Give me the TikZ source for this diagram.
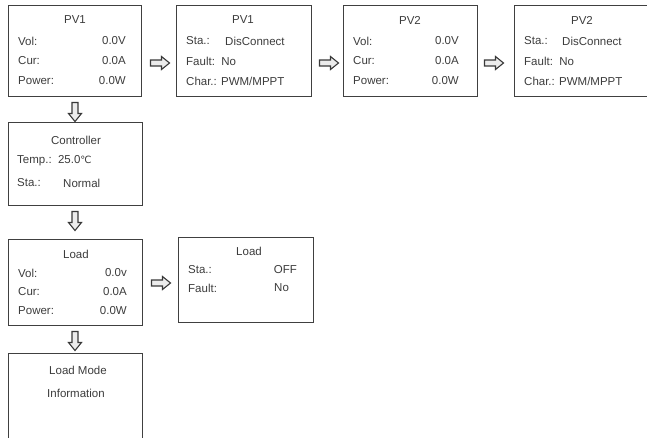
\documentclass[tikz,border=0pt]{standalone}
\usepackage{fontspec}
\setmainfont{Liberation Sans}
\newfontfamily\dvfont{DejaVu Sans}
\definecolor{txt}{HTML}{3C3C3C}
\definecolor{edge}{HTML}{404040}
\begin{document}
\begin{tikzpicture}[x=1pt,y=-1pt,
  panel/.style={draw=edge,line width=1.2pt,rectangle,anchor=north west,inner sep=0pt},
  lbl/.style={anchor=west,inner sep=0pt,text=txt,font=\fontsize{11.5}{13}\selectfont},
  val/.style={anchor=east,inner sep=0pt,text=txt,font=\fontsize{11.5}{13}\selectfont},
  ttl/.style={anchor=center,inner sep=0pt,text=txt,font=\fontsize{11.5}{13}\selectfont},
  blk/.style={draw=gray!45!black,fill=gray!15,line width=1.1pt,line join=miter}]
\useasboundingbox (0,0) rectangle (647,437);
\clip (0,0) rectangle (647,437);
% panels
\node[panel,minimum width=133pt,minimum height=91pt] (b1) at (8,5) {};
\node[panel,minimum width=135pt,minimum height=91pt] (b2) at (176,5) {};
\node[panel,minimum width=134pt,minimum height=91pt] (b3) at (343,5) {};
\node[panel,minimum width=140pt,minimum height=91pt] (b4) at (514,5) {};
\node[panel,minimum width=134pt,minimum height=83pt] (ctl) at (8,122) {};
\node[panel,minimum width=134pt,minimum height=86pt] (ld) at (8,239) {};
\node[panel,minimum width=135pt,minimum height=85pt] (ldd) at (178,237) {};
\node[panel,minimum width=134pt,minimum height=100pt] (lm) at (8,353) {};
% PV1
\node[ttl] (b1t) at (75,20) {PV1};
\node[lbl] (b1a) at (18,41) {Vol:};
\node[val] (b1b) at (126,41) {0.0V};
\node[lbl] (b1c) at (18,61) {Cur:};
\node[val] (b1d) at (126,61) {0.0A};
\node[lbl] (b1e) at (18,81) {Power:};
\node[val] (b1f) at (126,81) {0.0W};
% PV1 detail
\node[ttl] (b2t) at (243,20) {PV1};
\node[lbl] (b2a) at (186,41) {Sta.:};
\node[lbl] (b2b) at (225,41) {DisConnect};
\node[lbl] (b2c) at (186,61) {Fault:\ \ No};
\node[lbl] (b2d) at (186,81) {Char.: PWM/MPPT};
% PV2
\node[ttl] (b3t) at (410,20) {PV2};
\node[lbl] (b3a) at (353,41) {Vol:};
\node[val] (b3b) at (459,41) {0.0V};
\node[lbl] (b3c) at (353,61) {Cur:};
\node[val] (b3d) at (459,61) {0.0A};
\node[lbl] (b3e) at (353,81) {Power:};
\node[val] (b3f) at (459,81) {0.0W};
% PV2 detail
\node[ttl] (b4t) at (582,20) {PV2};
\node[lbl] (b4a) at (524,41) {Sta.:};
\node[lbl] (b4b) at (562,41) {DisConnect};
\node[lbl] (b4c) at (524,61) {Fault:\ \ No};
\node[lbl] (b4d) at (524,81) {Char.: PWM/MPPT};
% Controller
\node[ttl] (ct) at (76,140) {Controller};
\node[lbl] (ca) at (17,161) {Temp.:\ \ 25.0{\dvfont\fontsize{10}{12}\selectfont ℃}};
\node[lbl] (cb) at (17,183) {Sta.:};
\node[lbl] (cc) at (63,183) {Normal};
% Load
\node[ttl] (lt) at (76,254) {Load};
\node[lbl] (la) at (18,273) {Vol:};
\node[val] (lb) at (127,273) {0.0v};
\node[lbl] (lc) at (18,292) {Cur:};
\node[val] (ld2) at (127,292) {0.0A};
\node[lbl] (le) at (18,311) {Power:};
\node[val] (lf) at (127,311) {0.0W};
% Load detail
\node[ttl] (dt) at (249,251) {Load};
\node[lbl] (da) at (188,270) {Sta.:};
\node[val] (db) at (297,270) {OFF};
\node[lbl] (dc) at (188,288) {Fault:};
\node[lbl] (dd) at (274,288) {No};
% Load mode
\node[ttl] (mt) at (78,370) {Load Mode};
\node[ttl] (mi) at (76,393) {Information};
% arrow anchor points
\coordinate (a1) at (160,63);
\coordinate (a2) at (329,63);
\coordinate (a3) at (494,63);
\coordinate (a4) at (161,283);
\coordinate (d1) at (75,112);
\coordinate (d2) at (75,221);
\coordinate (d3) at (75,341);
% block arrows (right)
\foreach \p in {a1,a2,a3,a4}
  \draw[blk,shift={(\p)}] (-9.5,-3) -- (1.5,-3) -- (1.5,-6.5) -- (9.5,0) -- (1.5,6.5) -- (1.5,3) -- (-9.5,3) -- cycle;
% block arrows (down)
\foreach \p in {d1,d2,d3}
  \draw[blk,shift={(\p)}] (-3,-9.5) -- (-3,1.5) -- (-6.5,1.5) -- (0,9.5) -- (6.5,1.5) -- (3,1.5) -- (3,-9.5) -- cycle;
\end{tikzpicture}
\end{document}
